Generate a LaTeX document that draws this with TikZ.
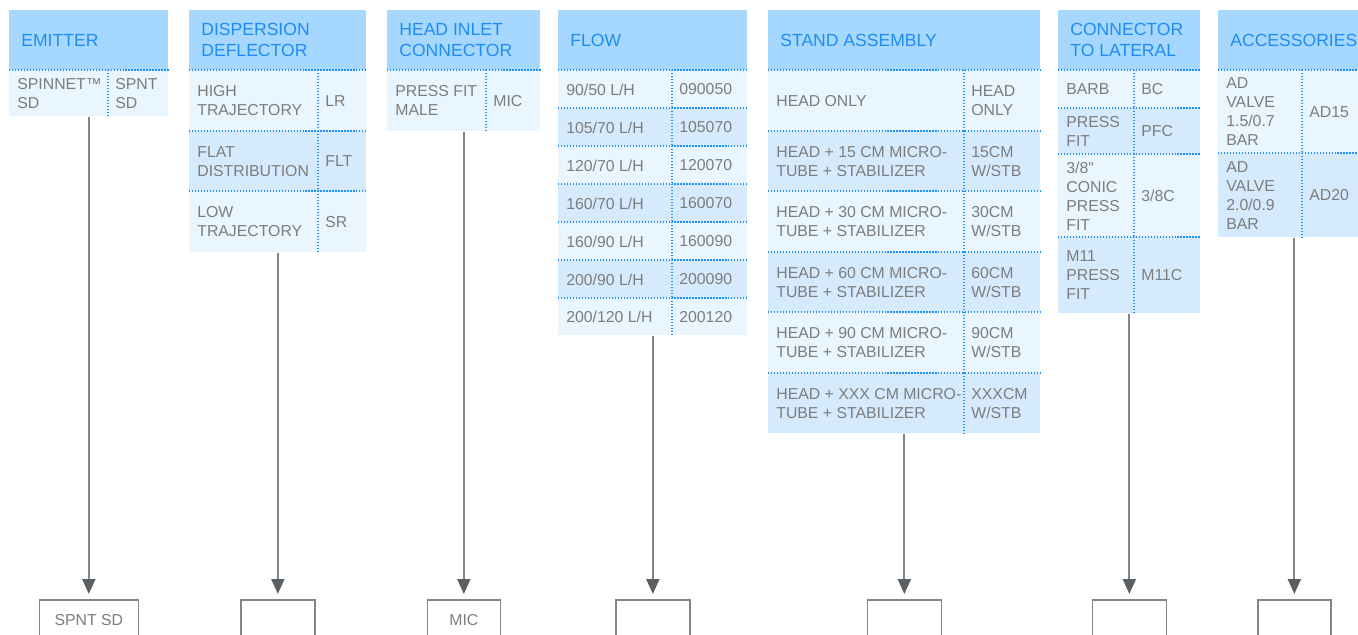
\documentclass[tikz,border=0pt]{standalone}
\usepackage{fontspec}
\setmainfont{Liberation Sans}
\usetikzlibrary{positioning, arrows.meta, fit, calc}

\definecolor{headfill}{RGB}{166,216,255}
\definecolor{headtext}{RGB}{30,140,245}
\definecolor{rowA}{RGB}{233,245,255}
\definecolor{rowB}{RGB}{213,234,253}
\definecolor{dotblue}{RGB}{30,144,255}
\definecolor{itemgray}{RGB}{125,125,125}
\definecolor{linegray}{RGB}{130,132,136}
\definecolor{tipgray}{RGB}{90,95,100}

\tikzset{
  % Column headers
  headcell/.style={fill=headfill, anchor=north west, inner sep=0, minimum height=1.2cm},
  headtext/.style={
    anchor=west, align=left, inner sep=0,
    text=headtext, font=\fontsize{10}{12}\selectfont
  },
  % Option rows
  itemcell/.style={anchor=north west, inner sep=0},
  itemtext/.style={
    anchor=west, align=left, inner sep=0,
    text=itemgray, font=\fontsize{9}{10.8}\selectfont
  },
  dotrule/.style={dotblue, line width=0.7pt, dash pattern=on 0.7pt off 1pt},
  % Arrows and result boxes
  flowarrow/.style={
    linegray, line width=1.1pt, shorten >=0.1cm,
    -{Triangle[length=0.3cm, width=0.26cm, color=tipgray]}
  },
  outbox/.style={
    draw=linegray, line width=0.85pt, anchor=north,
    minimum height=0.8cm, minimum width=1.48cm, inner sep=0,
    text=itemgray, font=\fontsize{9}{10.8}\selectfont
  },
}

% #1 name, #2 left, #3 right, #4 title (pixel units)
\newcommand{\spechead}[4]{%
  \pgfmathsetmacro{\headw}{(#3-#2)*0.02}
  \node[headcell, minimum width=\headw cm] (#1) at (#2,10) {};
  \node[headtext] (#1Text) at ([xshift=0.24cm]#1.west) {#4};
}
% #1 name, #2 left, #3 divider, #4 right, #5 top, #6 bottom, #7 fill, #8 label, #9 code
\newcommand{\specrow}[9]{%
  \pgfmathsetmacro{\rowlw}{(#3-#2)*0.02}
  \pgfmathsetmacro{\rowcw}{(#4-#3)*0.02}
  \pgfmathsetmacro{\rowh}{(#6-#5)*0.02}
  \node[itemcell, fill=#7, minimum width=\rowlw cm, minimum height=\rowh cm] (#1) at (#2,#5) {};
  \node[itemcell, fill=#7, minimum width=\rowcw cm, minimum height=\rowh cm] (#1Code) at (#3,#5) {};
  \node[itemtext] (#1Text) at ([xshift=0.16cm]#1.west) {#8};
  \node[itemtext] (#1CodeText) at ([xshift=0.14cm]#1Code.west) {#9};
  \draw[dotrule] (#1.north west) -- (#1Code.north east);
  \draw[dotrule] (#1Code.north west) -- (#1Code.south west);
}

\begin{document}
\begin{tikzpicture}[x=0.02cm, y=-0.02cm]

  \clip (0,0) rectangle (1358,635);
  \fill[white] (0,0) rectangle (1358,635);
  \coordinate (outline) at (0,599);

  %% ── Emitter ──
  \spechead{emitHead}{9}{168}{EMITTER}
  \specrow{emitR1}{9}{108}{168}{70}{116}{rowA}{SPINNET™\\SD}{SPNT\\SD}
  \node[fit=(emitHead)(emitR1)(emitR1Code), inner sep=0] (emitTab) {};

  %% ── Dispersion deflector ──
  \spechead{deflHead}{189}{366}{DISPERSION\\DEFLECTOR}
  \specrow{deflR1}{189}{318}{366}{70}{131}{rowA}{HIGH\\TRAJECTORY}{LR}
  \specrow{deflR2}{189}{318}{366}{131}{191}{rowB}{FLAT\\DISTRIBUTION}{FLT}
  \specrow{deflR3}{189}{318}{366}{191}{252}{rowA}{LOW\\TRAJECTORY}{SR}
  \node[fit=(deflHead)(deflR3)(deflR3Code), inner sep=0] (deflTab) {};

  %% ── Head inlet connector ──
  \spechead{inletHead}{387}{540}{HEAD INLET\\CONNECTOR}
  \specrow{inletR1}{387}{486}{540}{70}{131}{rowA}{PRESS FIT\\MALE}{MIC}
  \node[fit=(inletHead)(inletR1)(inletR1Code), inner sep=0] (inletTab) {};

  %% ── Flow ──
  \spechead{flowHead}{558}{747}{FLOW}
  \specrow{flowR1}{558}{672}{747}{70}{108}{rowA}{90/50 L/H}{090050}
  \specrow{flowR2}{558}{672}{747}{108}{146}{rowB}{105/70 L/H}{105070}
  \specrow{flowR3}{558}{672}{747}{146}{184}{rowA}{120/70 L/H}{120070}
  \specrow{flowR4}{558}{672}{747}{184}{222}{rowB}{160/70 L/H}{160070}
  \specrow{flowR5}{558}{672}{747}{222}{260}{rowA}{160/90 L/H}{160090}
  \specrow{flowR6}{558}{672}{747}{260}{298}{rowB}{200/90 L/H}{200090}
  \specrow{flowR7}{558}{672}{747}{298}{335}{rowA}{200/120 L/H}{200120}
  \node[fit=(flowHead)(flowR7)(flowR7Code), inner sep=0] (flowTab) {};

  %% ── Stand assembly ──
  \spechead{standHead}{768}{1040}{STAND ASSEMBLY}
  \specrow{standR1}{768}{964}{1040}{70}{131}{rowA}{HEAD ONLY}{HEAD\\ONLY}
  \specrow{standR2}{768}{964}{1040}{131}{191}{rowB}{HEAD + 15 CM MICRO-\\TUBE + STABILIZER}{15CM\\W/STB}
  \specrow{standR3}{768}{964}{1040}{191}{252}{rowA}{HEAD + 30 CM MICRO-\\TUBE + STABILIZER}{30CM\\W/STB}
  \specrow{standR4}{768}{964}{1040}{252}{312}{rowB}{HEAD + 60 CM MICRO-\\TUBE + STABILIZER}{60CM\\W/STB}
  \specrow{standR5}{768}{964}{1040}{312}{373}{rowA}{HEAD + 90 CM MICRO-\\TUBE + STABILIZER}{90CM\\W/STB}
  \specrow{standR6}{768}{964}{1040}{373}{433}{rowB}{HEAD + XXX CM MICRO-\\TUBE + STABILIZER}{XXXCM\\W/STB}
  \node[fit=(standHead)(standR6)(standR6Code), inner sep=0] (standTab) {};

  %% ── Connector to lateral ──
  \spechead{latHead}{1058}{1200}{CONNECTOR\\TO LATERAL}
  \specrow{latR1}{1058}{1134}{1200}{70}{108}{rowA}{BARB}{BC}
  \specrow{latR2}{1058}{1134}{1200}{108}{154}{rowB}{PRESS\\FIT}{PFC}
  \specrow{latR3}{1058}{1134}{1200}{154}{237}{rowA}{3/8\textquotedbl\\CONIC\\PRESS\\FIT}{3/8C}
  \specrow{latR4}{1058}{1134}{1200}{237}{313}{rowB}{M11\\PRESS\\FIT}{M11C}
  \node[fit=(latHead)(latR4)(latR4Code), inner sep=0] (latTab) {};

  %% ── Accessories ──
  \spechead{accHead}{1218}{1370}{ACCESSORIES}
  \specrow{accR1}{1218}{1302}{1370}{70}{153}{rowA}{AD\\VALVE\\1.5/0.7\\BAR}{AD15}
  \specrow{accR2}{1218}{1302}{1370}{153}{237}{rowB}{AD\\VALVE\\2.0/0.9\\BAR}{AD20}
  \node[fit=(accHead)(accR2)(accR2Code), inner sep=0] (accTab) {};

  %% ── Result boxes ──
  \node[outbox, minimum width=1.98cm] (emitOut) at (emitTab.south |- outline) {SPNT SD};
  \node[outbox] (deflOut)  at (deflTab.south |- outline) {};
  \node[outbox, minimum width=1.46cm] (inletOut) at (inletTab.south |- outline) {MIC};
  \node[outbox] (flowOut)  at (flowTab.south |- outline) {};
  \node[outbox] (standOut) at (standTab.south |- outline) {};
  \node[outbox] (latOut)   at (latTab.south |- outline) {};
  \node[outbox, minimum width=1.46cm] (accOut) at (accTab.south |- outline) {};

  %% ── Arrows ──
  \draw[flowarrow] (emitTab.south)  -- (emitOut.north);
  \draw[flowarrow] (deflTab.south)  -- (deflOut.north);
  \draw[flowarrow] (inletTab.south) -- (inletOut.north);
  \draw[flowarrow] (flowTab.south)  -- (flowOut.north);
  \draw[flowarrow] (standTab.south) -- (standOut.north);
  \draw[flowarrow] (latTab.south)   -- (latOut.north);
  \draw[flowarrow] (accTab.south)   -- (accOut.north);

\end{tikzpicture}
\end{document}
